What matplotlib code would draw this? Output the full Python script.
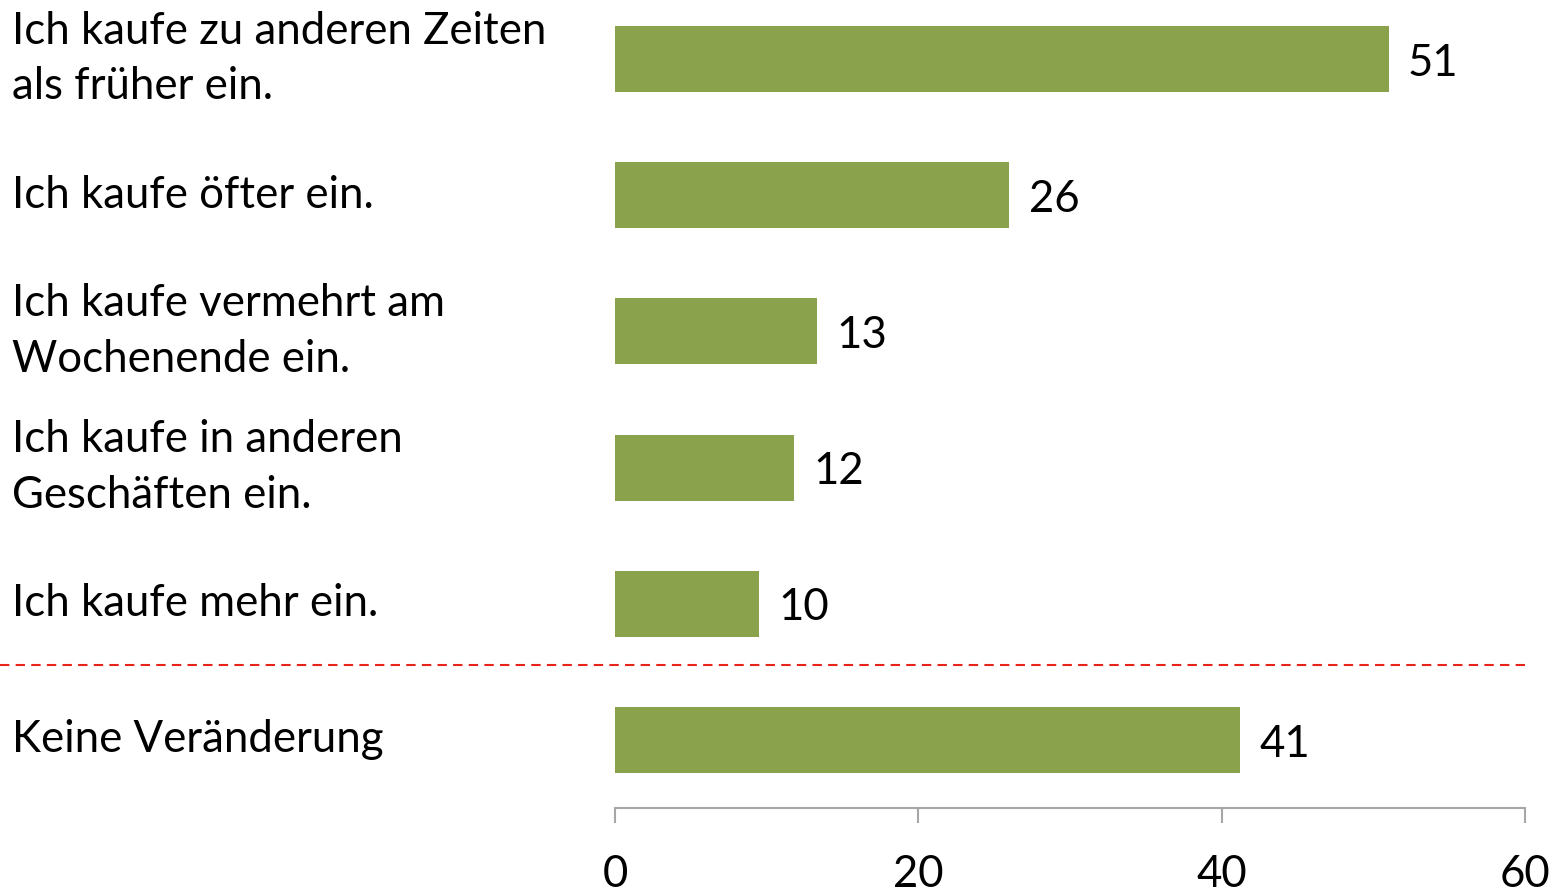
import matplotlib.pyplot as plt
from matplotlib import transforms

plt.rcParams['font.family'] = ['Lato', 'DejaVu Sans']

# Daten
labels = ["Ich kaufe zu anderen Zeiten\nals früher ein.",
          "Ich kaufe öfter ein.",
          "Ich kaufe vermehrt am\nWochenende ein.",
          "Ich kaufe in anderen\nGeschäften ein.",
          "Ich kaufe mehr ein.",
          "Keine Veränderung"]
values = [51.0, 26.0, 13.3, 11.8, 9.5, 41.2]
xticks = [0, 20, 40, 60]

bar_color = "#8BA24C"
fs = 31.5

fig = plt.figure(figsize=(15.55, 8.92), dpi=100)
ax = fig.add_axes([615/1555, 1 - 808/892, 910/1555, 808/892])

pos = list(range(len(values)))
ax.barh(pos, values, height=0.485, color=bar_color)
ax.set_xlim(0, 60)
ax.set_ylim(5.5, -0.433)

for p, v in zip(pos, values):
    ax.annotate(f"{v:.0f}", (v, p), xytext=(14, -3), textcoords="offset points",
                va="center", ha="left", fontsize=fs)

# Beschriftungen links
trans = transforms.blended_transform_factory(fig.transFigure, ax.transData)
for p, lab in zip(pos, labels):
    ax.text(12/1555, p, lab, transform=trans, ha="left", va="center",
            fontsize=fs, linespacing=1.45)

# rote gestrichelte Trennlinie
ax.plot([0, 1530/1555], [4.45, 4.45], transform=trans, color="#E8231A",
        lw=1.5, linestyle=(0, (4.5, 3)), clip_on=False)

for s in ["top", "right", "left"]:
    ax.spines[s].set_visible(False)
ax.spines["bottom"].set_color("#A6A6A6")
ax.spines["bottom"].set_linewidth(1.5)
ax.set_yticks([])
ax.set_xticks(xticks)
ax.tick_params(axis="x", direction="out", length=11, width=1.5, color="#A6A6A6",
               labelsize=fs, pad=22)

fig.savefig("out.png", dpi=100)
